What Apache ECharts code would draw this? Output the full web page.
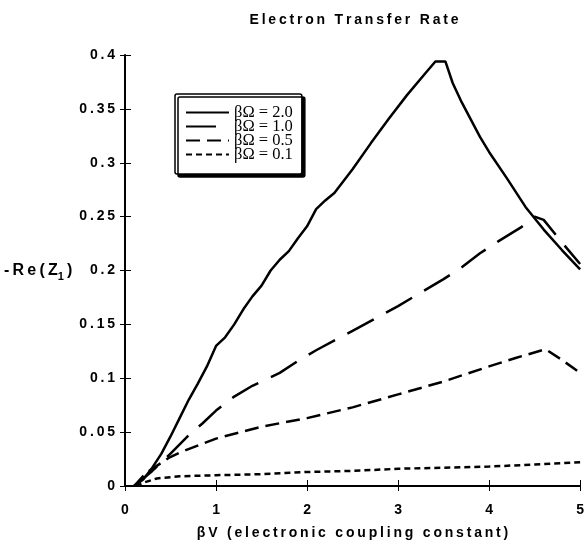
<!DOCTYPE html>
<html>
<head>
<meta charset="utf-8">
<script src="https://cdn.jsdelivr.net/npm/echarts@6/dist/echarts.min.js"></script>
<style>
  html, body { margin: 0; padding: 0; background: #fff; }
  #rate { width: 587px; height: 545px; }
</style>
</head>
<body>
<div id="rate"></div>
<script>
var seriesNames = ["βΩ = 2.0", "βΩ = 1.0", "βΩ = 0.5", "βΩ = 0.1"];

// βΩ = 2.0
var x20 = [0.1, 0.2, 0.3, 0.4, 0.5, 0.6, 0.7, 0.8, 0.9, 1.0, 1.1, 1.2, 1.3, 1.4, 1.5, 1.6, 1.7, 1.8, 1.9, 2.0, 2.1, 2.2, 2.3, 2.5, 2.7, 2.9, 3.1, 3.3, 3.41, 3.52, 3.6, 3.7, 3.8, 3.9, 4.0, 4.2, 4.4, 4.6, 4.8, 5.0];
var y20 = [0, 0.006, 0.017, 0.03, 0.046, 0.063, 0.08, 0.095, 0.111, 0.13, 0.138, 0.15, 0.164, 0.176, 0.186, 0.2, 0.21, 0.218, 0.23, 0.241, 0.257, 0.265, 0.272, 0.294, 0.318, 0.341, 0.363, 0.383, 0.394, 0.394, 0.374, 0.356, 0.34, 0.324, 0.31, 0.285, 0.259, 0.238, 0.219, 0.201];
// βΩ = 1.0
var x10 = [0.1, 0.3, 0.5, 0.7, 0.85, 1.0, 1.2, 1.4, 1.7, 1.9, 2.1, 2.5, 3.0, 3.5, 3.7, 3.9, 4.1, 4.35, 4.5, 4.6, 4.8, 5.0];
var y10 = [0, 0.014, 0.03, 0.047, 0.058, 0.07, 0.083, 0.093, 0.105, 0.116, 0.126, 0.144, 0.167, 0.192, 0.203, 0.216, 0.227, 0.24, 0.25, 0.247, 0.226, 0.206];
// βΩ = 0.5
var x05 = [0.1, 0.23, 0.48, 0.6, 1.0, 1.5, 2.0, 2.5, 3.0, 3.5, 4.0, 4.3, 4.62, 4.8, 5.0];
var y05 = [0, 0.012, 0.026, 0.031, 0.044, 0.055, 0.063, 0.073, 0.085, 0.097, 0.111, 0.119, 0.127, 0.117, 0.105];
// βΩ = 0.1
var x01 = [0.12, 0.2, 0.35, 0.6, 1.0, 1.5, 2.0, 2.5, 3.0, 3.5, 4.0, 4.5, 5.0];
var y01 = [0, 0.003, 0.007, 0.009, 0.010, 0.011, 0.013, 0.014, 0.016, 0.017, 0.018, 0.020, 0.022];

var lineDashes = ["solid", [30, 14], [14, 7], [6, 4]];
var lineWidths = [2.5, 2.5, 2.5, 2.5];

function pairs(xs, ys) {
  return xs.map(function (x, i) { return [x, ys[i]]; });
}

// the old typesetting has wide tracking, fake it with thin spaces
function spaced(s) {
  return s.split("").join("\u2009");
}

var dom = document.getElementById("rate");
var chart = echarts.init(dom, null, { renderer: "canvas" });

var boldFont = "Liberation Sans";
var tickLabel = {
  color: "#000", fontFamily: boldFont, fontWeight: "bold", fontSize: 14,
  formatter: function (v) { return spaced(String(v)); }
};

var dataSets = [pairs(x20, y20), pairs(x10, y10), pairs(x05, y05), pairs(x01, y01)];

option = {
  backgroundColor: "#fff",
  animation: false,
  title: {
    text: spaced("Electron Transfer Rate"),
    left: 349,
    textAlign: "center",
    top: 8,
    textStyle: { color: "#000", fontFamily: boldFont, fontWeight: "bold", fontSize: 14 }
  },
  grid: { left: 125, right: 2, top: 55, bottom: 55 },
  legend: {
    orient: "vertical",
    left: 175,
    top: 94,
    data: seriesNames,
    itemWidth: 43,
    itemHeight: 12,
    itemGap: -3,
    padding: [10, 9, 11, 10],
    backgroundColor: "#fff",
    borderColor: "#000",
    borderWidth: 1.5,
    borderRadius: 2,
    shadowColor: "#000",
    shadowBlur: 0,
    shadowOffsetX: 3,
    shadowOffsetY: 3,
    itemStyle: { color: "transparent", borderColor: "transparent", borderWidth: 0, opacity: 0 },
    textStyle: { color: "#000", fontFamily: "Liberation Serif", fontSize: 16.5 }
  },
  xAxis: [
    {
      type: "value", min: 0, max: 5, interval: 1,
      name: spaced("βV (electronic coupling constant)"),
      nameLocation: "middle",
      nameGap: 40,
      nameTextStyle: { color: "#000", fontFamily: boldFont, fontWeight: "bold", fontSize: 14 },
      axisLine: { lineStyle: { color: "#000", width: 2 } },
      axisTick: { inside: true, length: 6, lineStyle: { color: "#000", width: 1 } },
      axisLabel: Object.assign({ margin: 17 }, tickLabel),
      splitLine: { show: false }
    },
    {
      type: "value", min: 0, max: 5, interval: 1, position: "top",
      axisLine: { lineStyle: { color: "#000", width: 1.5 } },
      axisTick: { inside: true, length: 5, lineStyle: { color: "#000", width: 1 } },
      axisLabel: { show: false },
      splitLine: { show: false }
    }
  ],
  yAxis: [
    {
      type: "value", min: 0, max: 0.4, interval: 0.05,
      axisLine: { lineStyle: { color: "#000", width: 2 } },
      axisTick: { inside: true, length: 6, lineStyle: { color: "#000", width: 1 } },
      axisLabel: Object.assign({ margin: 10 }, tickLabel),
      splitLine: { show: false }
    },
    {
      type: "value", min: 0, max: 0.4, interval: 0.05, position: "right",
      axisLine: { lineStyle: { color: "#000", width: 1 } },
      axisTick: { inside: true, length: 5, lineStyle: { color: "#000", width: 1 } },
      axisLabel: { show: false },
      splitLine: { show: false }
    }
  ],
  graphic: [
    {
      type: "text",
      left: 4,
      top: 263,
      style: {
        text: spaced("-Re(Z") + "{sub|1}" + "\u2009)",
        fill: "#000",
        font: "bold 16px Liberation Sans",
        rich: {
          sub: { fontFamily: boldFont, fontWeight: "bold", fontSize: 11, padding: [11, 0, 0, 0] }
        }
      }
    }
  ],
  series: dataSets.map(function (d, i) {
    return {
      name: seriesNames[i],
      type: "line",
      xAxisIndex: 0,
      yAxisIndex: 0,
      data: d,
      showSymbol: false,
      symbol: "none",
      clip: true,
      lineStyle: { color: "#000", width: lineWidths[i], type: lineDashes[i] },
      itemStyle: { color: "#000" }
    };
  })
};

chart.setOption(option, true);
</script>
</body>
</html>
